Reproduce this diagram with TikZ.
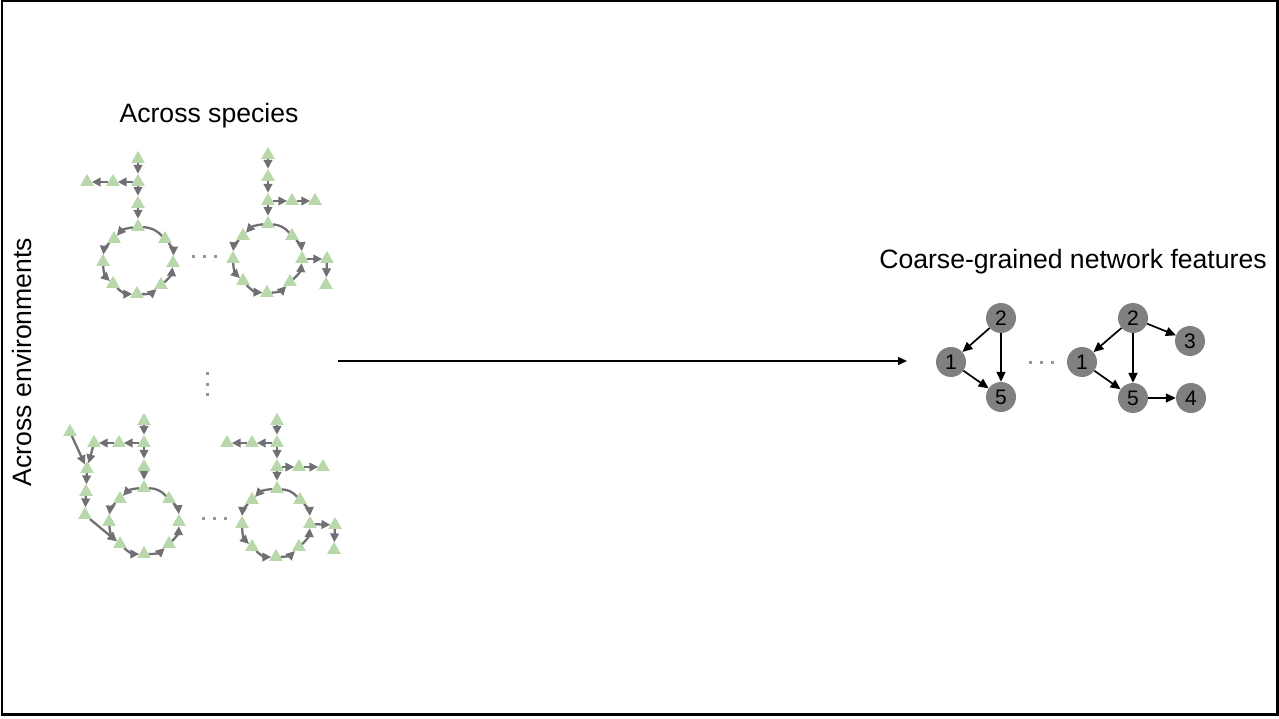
\documentclass[tikz,border=0pt]{standalone}
\usepackage{fontspec}
\setmainfont{Liberation Sans}
\usetikzlibrary{shapes.geometric,arrows.meta}
\definecolor{trigreen}{RGB}{184,216,172}
\definecolor{edgegray}{RGB}{112,112,116}
\definecolor{nodegray}{RGB}{128,128,128}
\definecolor{dotgray}{RGB}{150,150,150}
\tikzset{
  tri/.style={regular polygon, regular polygon sides=3, fill=trigreen, draw=none, inner sep=0pt, minimum size=15.5pt},
  ed/.style={draw=edgegray, line width=2.3pt, -{Triangle[length=9pt,width=8.5pt]}},
  ud/.style={draw=edgegray, line width=2.3pt},
  gnode/.style={circle, fill=nodegray, draw=none, minimum size=30pt, inner sep=0pt, font=\fontsize{21}{21}\selectfont},
  bed/.style={draw=black, line width=1.7pt, -{Triangle[length=10pt,width=9pt]}},
  lbl/.style={font=\fontsize{26.6}{29}\selectfont, inner sep=0pt},
  dotsq/.style={fill=dotgray, draw=none, minimum size=3pt, inner sep=0pt, rectangle}
}
\begin{document}
\begin{tikzpicture}[x=1pt,y=-1pt]
\useasboundingbox (0,0) rectangle (1279,719);
\draw[line width=2.3pt] (2,1.3) rectangle (1277.5,714.5);

% labels
\node[lbl] (tspecies) at (209,116) {Across species};
\node[lbl] (tcoarse) at (1073,262) {Coarse-grained network features};
\node[lbl, rotate=90] (tenv) at (22,362) {Across environments};

% main arrow
\coordinate (mstart) at (338,361);
\coordinate (mend) at (907,361);
\draw[line width=1.4pt, -{Triangle[length=9pt,width=8pt]}] (mstart) -- (mend);

% dots
\foreach \i/\x/\y in {h1/193/257,h2/204/257,h3/215/257,k1/203/518,k2/214/518,k3/225/518,v1/207/373,v2/207/384,v3/207/394,r1/1030/362,r2/1041/362,r3/1052/362}
  \node[dotsq] (dot\i) at (\x,\y) {};

% ---------- Net A ----------
\node[tri] (a1) at (138,159) {};
\node[tri] (a2) at (138,182) {};
\node[tri] (a3) at (113,182) {};
\node[tri] (a4) at (87,182) {};
\node[tri] (a5) at (138,204) {};
\node[tri] (at) at (138,227) {};
\node[tri] (aul) at (114,239) {};
\node[tri] (al) at (103,262) {};
\node[tri] (all) at (113,284) {};
\node[tri] (ab) at (137,294) {};
\node[tri] (alr) at (161,285) {};
\node[tri] (ar) at (173,263) {};
\node[tri] (aur) at (165,239) {};
\draw[ed] (a1) -- (a2);
\draw[ed] (a2) -- (a3);
\draw[ed] (a3) -- (a4);
\draw[ed] (a2) -- (a5);
\draw[ed] (a5) -- (at);
\draw[ed] (at) to[bend right=22] (aul);
\draw[ed] (aul) to[bend right=22] (al);
\draw[ed] (al) to[bend right=22] (all);
\draw[ed] (all) to[bend right=22] (ab);
\draw[ed] (ab) to[bend right=22] (alr);
\draw[ed] (alr) to[bend right=22] (ar);
\draw[ed] (aur) to[bend left=22] (ar);
\draw[ud] (at) to[bend left=22] (aur);
\foreach \n in {a1,a2,a3,a4,a5,at,aul,al,all,ab,alr,ar,aur}
  \node[tri] at (\n) {};

% ---------- Net B ----------
\node[tri] (b1) at (268,155) {};
\node[tri] (b2) at (268,177) {};
\node[tri] (b3) at (268,201) {};
\node[tri] (b4) at (292,201) {};
\node[tri] (b5) at (315,201) {};
\node[tri] (bt) at (268,224) {};
\node[tri] (bul) at (243,236) {};
\node[tri] (bl) at (233,259) {};
\node[tri] (bll) at (243,281) {};
\node[tri] (bb) at (267,293) {};
\node[tri] (blr) at (290,282) {};
\node[tri] (br) at (302,259) {};
\node[tri] (bur) at (292,236) {};
\node[tri] (be1) at (327,259) {};
\node[tri] (be2) at (326,285) {};
\draw[ed] (b1) -- (b2);
\draw[ed] (b2) -- (b3);
\draw[ed] (b3) -- (b4);
\draw[ed] (b4) -- (b5);
\draw[ed] (b3) -- (bt);
\draw[ed] (bt) to[bend right=22] (bul);
\draw[ed] (bul) to[bend right=22] (bl);
\draw[ed] (bl) to[bend right=22] (bll);
\draw[ed] (bll) to[bend right=22] (bb);
\draw[ed] (bb) to[bend right=22] (blr);
\draw[ed] (blr) to[bend right=22] (br);
\draw[ed] (bur) to[bend left=22] (br);
\draw[ud] (bt) to[bend left=22] (bur);
\draw[ed] (br) -- (be1);
\draw[ed] (be1) -- (be2);
\foreach \n in {b1,b2,b3,b4,b5,bt,bul,bl,bll,bb,blr,br,bur,be1,be2}
  \node[tri] at (\n) {};

% ---------- Net C ----------
\node[tri] (c1) at (144,421) {};
\node[tri] (c2) at (144,443) {};
\node[tri] (c3) at (119,443) {};
\node[tri] (c4) at (94,443) {};
\node[tri] (c5) at (87,469) {};
\node[tri] (c6) at (86,492) {};
\node[tri] (c7) at (85,515) {};
\node[tri] (cx) at (70,432) {};
\node[tri] (c8) at (144,467) {};
\node[tri] (ct) at (144,488) {};
\node[tri] (cul) at (120,499) {};
\node[tri] (cl) at (109,522) {};
\node[tri] (cll) at (120,544) {};
\node[tri] (cb) at (144,554) {};
\node[tri] (clr) at (169,544) {};
\node[tri] (cr) at (179,522) {};
\node[tri] (cur) at (169,499) {};
\draw[ed] (c1) -- (c2);
\draw[ed] (c2) -- (c3);
\draw[ed] (c3) -- (c4);
\draw[ed] (c4) -- (c5);
\draw[ed] (cx) -- (c5);
\draw[ed] (c5) -- (c6);
\draw[ed] (c6) -- (c7);
\draw[ed] (c7) -- (cll);
\draw[ed] (c2) -- (c8);
\draw[ed] (c8) -- (ct);
\draw[ed] (ct) to[bend right=22] (cul);
\draw[ed] (cul) to[bend right=22] (cl);
\draw[ed] (cl) to[bend right=22] (cll);
\draw[ed] (cll) to[bend right=22] (cb);
\draw[ed] (cb) to[bend right=22] (clr);
\draw[ed] (clr) to[bend right=22] (cr);
\draw[ed] (cur) to[bend left=22] (cr);
\draw[ud] (ct) to[bend left=22] (cur);
\foreach \n in {c1,c2,c3,c4,c5,c6,c7,cx,c8,ct,cul,cl,cll,cb,clr,cr,cur}
  \node[tri] at (\n) {};

% ---------- Net D ----------
\node[tri] (d1) at (277,421) {};
\node[tri] (d2) at (277,443) {};
\node[tri] (d3) at (252,443) {};
\node[tri] (d4) at (227,443) {};
\node[tri] (d5) at (277,467) {};
\node[tri] (d6) at (299,467) {};
\node[tri] (d7) at (323,467) {};
\node[tri] (dt) at (277,489) {};
\node[tri] (dul) at (252,500) {};
\node[tri] (dl) at (242,524) {};
\node[tri] (dll) at (252,547) {};
\node[tri] (db) at (276,557) {};
\node[tri] (dlr) at (299,547) {};
\node[tri] (dr) at (310,524) {};
\node[tri] (dur) at (300,500) {};
\node[tri] (de1) at (335,525) {};
\node[tri] (de2) at (334,550) {};
\draw[ed] (d1) -- (d2);
\draw[ed] (d2) -- (d3);
\draw[ed] (d3) -- (d4);
\draw[ed] (d2) -- (d5);
\draw[ed] (d5) -- (d6);
\draw[ed] (d6) -- (d7);
\draw[ed] (d5) -- (dt);
\draw[ed] (dt) to[bend right=22] (dul);
\draw[ed] (dul) to[bend right=22] (dl);
\draw[ed] (dl) to[bend right=22] (dll);
\draw[ed] (dll) to[bend right=22] (db);
\draw[ed] (db) to[bend right=22] (dlr);
\draw[ed] (dlr) to[bend right=22] (dr);
\draw[ed] (dur) to[bend left=22] (dr);
\draw[ud] (dt) to[bend left=22] (dur);
\draw[ed] (dr) -- (de1);
\draw[ed] (de1) -- (de2);
\foreach \n in {d1,d2,d3,d4,d5,d6,d7,dt,dul,dl,dll,db,dlr,dr,dur,de1,de2}
  \node[tri] at (\n) {};

% ---------- coarse-grained graphs ----------
\node[gnode] (n2) at (1001,318) {2};
\node[gnode] (n1) at (951,362) {1};
\node[gnode] (n5) at (1001,397) {5};
\draw[bed] (n2) -- (n1);
\draw[bed] (n2) -- (n5);
\draw[bed] (n1) -- (n5);

\node[gnode] (m2) at (1133,318) {2};
\node[gnode] (m1) at (1082,362) {1};
\node[gnode] (m5) at (1133,398) {5};
\node[gnode] (m3) at (1190,341) {3};
\node[gnode] (m4) at (1191,398) {4};
\draw[bed] (m2) -- (m1);
\draw[bed] (m2) -- (m5);
\draw[bed] (m2) -- (m3);
\draw[bed] (m1) -- (m5);
\draw[bed] (m5) -- (m4);
\end{tikzpicture}
\end{document}
